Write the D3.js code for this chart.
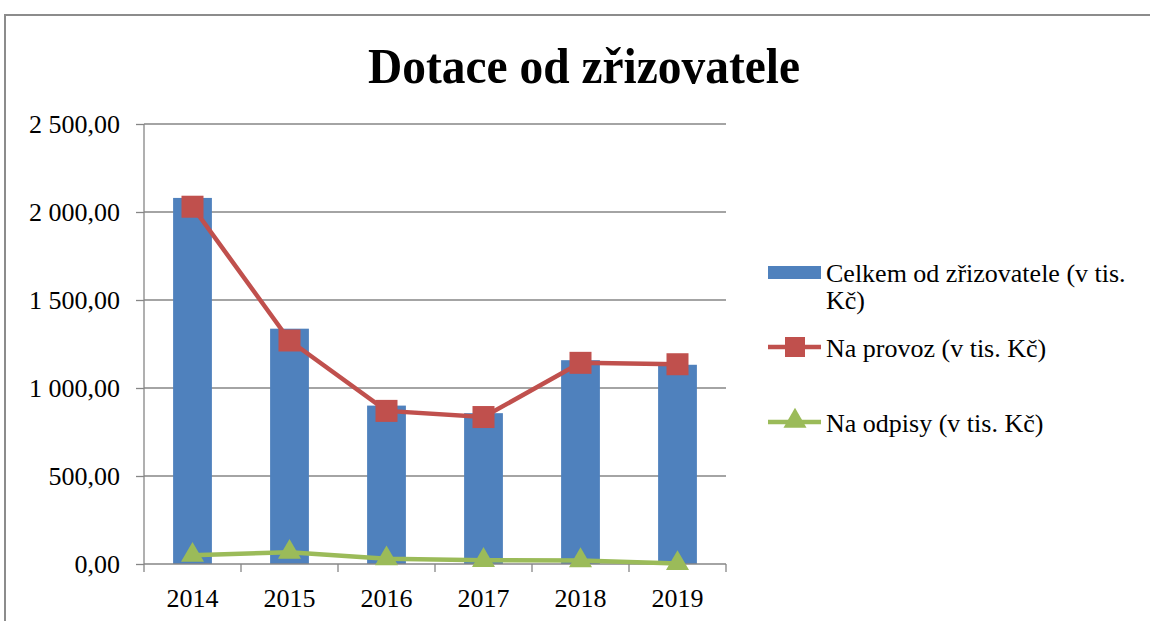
<!DOCTYPE html>
<html>
<head>
<meta charset="utf-8">
<script src="https://cdn.jsdelivr.net/npm/d3@7"></script>
<style>
  body { margin: 0; background: #fff; }
  svg text { font-family: "Times New Roman", Times, "Liberation Serif", Tinos, "DejaVu Serif", serif; fill: #000; }
</style>
</head>
<body>
<div id="chart"></div>
<script>
var svgWidth = 1150;
var svgHeight = 621;

// data (v tis. Kč)
var years = ["2014", "2015", "2016", "2017", "2018", "2019"];
var celkem = [2080, 1337, 900, 857, 1158, 1132];
var provoz = [2030, 1270, 870, 835, 1143, 1135];
var odpisy = [50, 67, 30, 21, 20, 3];
var yTicks = [0, 500, 1000, 1500, 2000, 2500];
var seriesNames = ["Celkem od zřizovatele (v tis. Kč)", "Na provoz (v tis. Kč)", "Na odpisy (v tis. Kč)"];

var margin = { top: 124, left: 144, right: 424, bottom: 57 };
var width = svgWidth - margin.left - margin.right;
var height = svgHeight - margin.top - margin.bottom;

var blue = "#4F81BD", red = "#C0504D", green = "#9BBB59", gridCol = "#868686";

var svg = d3.select("#chart")
    .append("svg")
    .attr("width", svgWidth)
    .attr("height", svgHeight);

// outer frame (runs off right and bottom edge)
svg.append("rect")
    .attr("x", 5).attr("y", 15)
    .attr("width", 1160).attr("height", 630)
    .attr("fill", "none")
    .attr("stroke", "#8c8c8c")
    .attr("stroke-width", 2);

svg.append("text")
    .attr("x", 584).attr("y", 83)
    .attr("text-anchor", "middle")
    .attr("font-size", "50px")
    .attr("font-weight", "bold")
    .attr("textLength", 432)
    .attr("lengthAdjust", "spacingAndGlyphs")
    .text("Dotace od zřizovatele");

var chartGroup = svg.append("g")
    .attr("transform", `translate(${margin.left},${margin.top})`);

var x = d3.scaleBand().domain(years).range([0, width]).paddingInner(0).paddingOuter(0);
var y = d3.scaleLinear().domain([0, 2500]).range([height, 0]);

var cz = d3.formatLocale({ decimal: ",", thousands: " ", grouping: [3], currency: ["", ""] });
var fmt = cz.format(",.2f");

// gridlines
chartGroup.append("g")
    .selectAll("line")
    .data(yTicks.slice(1))
    .enter().append("line")
    .attr("x1", 0).attr("x2", width)
    .attr("y1", d => y(d)).attr("y2", d => y(d))
    .attr("stroke", gridCol).attr("stroke-width", 1.3);

// y axis
var yAxis = d3.axisLeft(y).tickValues(yTicks).tickSize(8).tickPadding(16).tickFormat(fmt);
var yg = chartGroup.append("g").call(yAxis).attr("font-family", null);
yg.select(".domain").remove();
yg.selectAll("line").attr("stroke", gridCol).attr("stroke-width", 1.3);
yg.selectAll("text").attr("font-size", "26px");

chartGroup.append("line")
    .attr("x1", 0).attr("x2", 0).attr("y1", 0).attr("y2", height)
    .attr("stroke", gridCol).attr("stroke-width", 1.3);

// bars
var barW = x.bandwidth() * 0.4;
chartGroup.append("g")
    .selectAll("rect")
    .data(celkem)
    .enter().append("rect")
    .attr("x", (d, i) => x(years[i]) + x.bandwidth() / 2 - barW / 2)
    .attr("y", d => y(d))
    .attr("width", barW)
    .attr("height", d => height - y(d))
    .attr("fill", blue);

// x axis
var xg = chartGroup.append("g").attr("transform", `translate(0,${height})`);
xg.append("line").attr("x1", 0).attr("x2", width).attr("y1", 0).attr("y2", 0)
    .attr("stroke", gridCol).attr("stroke-width", 1.3);
xg.selectAll(".tk")
    .data(years.concat(["end"]))
    .enter().append("line")
    .attr("x1", (d, i) => i * x.step()).attr("x2", (d, i) => i * x.step())
    .attr("y1", 0).attr("y2", 8)
    .attr("stroke", gridCol).attr("stroke-width", 1.3);
xg.selectAll(".lbl")
    .data(years)
    .enter().append("text")
    .attr("x", d => x(d) + x.bandwidth() / 2)
    .attr("y", 43)
    .attr("text-anchor", "middle")
    .attr("font-size", "26px")
    .text(d => d);

var cx = (d, i) => x(years[i]) + x.bandwidth() / 2;
var line = d3.line().x(cx).y(d => y(d));

// Na provoz
chartGroup.append("path")
    .datum(provoz)
    .attr("d", line)
    .attr("fill", "none").attr("stroke", red).attr("stroke-width", 4.5);
chartGroup.append("g")
    .selectAll("rect")
    .data(provoz)
    .enter().append("rect")
    .attr("x", (d, i) => cx(d, i) - 11)
    .attr("y", d => y(d) - 11)
    .attr("width", 22).attr("height", 22)
    .attr("fill", red);

// Na odpisy
var tri = d3.symbol().type(d3.symbolTriangle).size(230);
chartGroup.append("path")
    .datum(odpisy)
    .attr("d", line)
    .attr("fill", "none").attr("stroke", green).attr("stroke-width", 4.5);
chartGroup.append("g")
    .selectAll("path")
    .data(odpisy)
    .enter().append("path")
    .attr("d", tri)
    .attr("transform", (d, i) => `translate(${cx(d, i)},${y(d)})`)
    .attr("fill", green);

// legend
var lg = svg.append("g").attr("transform", "translate(768,0)");
lg.append("rect").attr("x", 0).attr("y", 266).attr("width", 53).attr("height", 13).attr("fill", blue);
lg.append("text").attr("x", 58).attr("y", 282).attr("font-size", "26px").text("Celkem od zřizovatele (v tis.");
lg.append("text").attr("x", 58).attr("y", 309).attr("font-size", "26px").text("Kč)");

lg.append("line").attr("x1", 0).attr("x2", 53).attr("y1", 347).attr("y2", 347)
    .attr("stroke", red).attr("stroke-width", 4.5);
lg.append("rect").attr("x", 17).attr("y", 337).attr("width", 20).attr("height", 20).attr("fill", red);
lg.append("text").attr("x", 58).attr("y", 357).attr("font-size", "26px").text(seriesNames[1]);

lg.append("line").attr("x1", 0).attr("x2", 53).attr("y1", 422).attr("y2", 422)
    .attr("stroke", green).attr("stroke-width", 4.5);
lg.append("path").attr("d", tri).attr("transform", "translate(27,421)").attr("fill", green);
lg.append("text").attr("x", 58).attr("y", 432).attr("font-size", "26px").text(seriesNames[2]);
</script>
</body>
</html>
